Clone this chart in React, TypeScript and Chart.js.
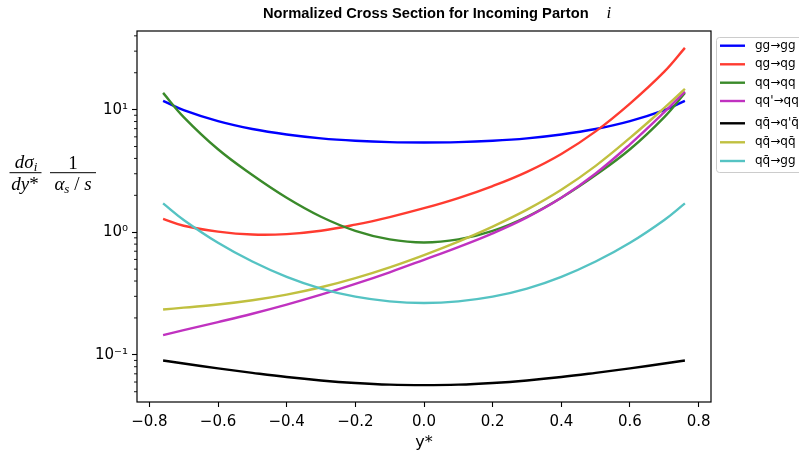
import React, { useEffect, useRef } from 'react';
import { Chart, registerables } from 'chart.js';

Chart.register(...registerables);

// ---- data ----
const Y_STAR = [-0.76, -0.7, -0.6, -0.5, -0.4, -0.3, -0.2, -0.1, 0, 0.1, 0.2, 0.3, 0.4, 0.5, 0.6, 0.7, 0.76];

const GG_GG = [11.8, 9.91, 8.06, 6.95, 6.27, 5.835, 5.575, 5.43, 5.39, 5.43, 5.575, 5.835, 6.27, 6.95, 8.06, 9.91, 11.8];
const QG_QG = [1.285, 1.13, 1.012, 0.958, 0.966, 1.028, 1.153, 1.33, 1.57, 1.9, 2.38, 3.11, 4.35, 6.65, 11.2, 20.4, 31.9];
const QQ_QQ = [13.7, 8.7, 4.75, 2.93, 1.912, 1.338, 1.027, 0.874, 0.825, 0.874, 1.027, 1.338, 1.912, 2.93, 4.75, 8.7, 13.7];
const QQP_QQP = [0.145, 0.159, 0.185, 0.2164, 0.2567, 0.3093, 0.3789, 0.4714, 0.596, 0.757, 0.98, 1.322, 1.911, 3.015, 5.214, 9.533, 14.04];
const QQB_QPQPB = [0.0899, 0.0849, 0.0776, 0.0713, 0.0659, 0.0618, 0.0589, 0.0571, 0.0566, 0.0571, 0.0589, 0.0618, 0.0659, 0.0713, 0.0776, 0.0849, 0.0899];
const QQB_QQB = [0.234, 0.2427, 0.2572, 0.2787, 0.3099, 0.3557, 0.4227, 0.5178, 0.652, 0.84, 1.112, 1.528, 2.22, 3.48, 5.88, 10.33, 14.76];
const QQB_GG = [1.72, 1.26, 0.821, 0.577, 0.4327, 0.3468, 0.298, 0.273, 0.265, 0.273, 0.298, 0.3468, 0.4327, 0.577, 0.821, 1.26, 1.72];

const SERIES = [GG_GG, QG_QG, QQ_QQ, QQP_QQP, QQB_QPQPB, QQB_QQB, QQB_GG];
const SERIES_LABELS = [
  'gg\u2192gg',
  'qg\u2192qg',
  'qq\u2192qq',
  "qq'\u2192qq'",
  "qq\u0304\u2192q'q\u0304'",
  'qq\u0304\u2192qq\u0304',
  'qq\u0304\u2192gg',
];
const SERIES_COLORS = ['#0000ff', '#ff3b30', '#3a8a2a', '#c032c0', '#000000', '#c0c040', '#55c3c3'];

const X_TICKS = [-0.8, -0.6, -0.4, -0.2, 0, 0.2, 0.4, 0.6, 0.8];
const X_TICK_LABELS = ['\u22120.8', '\u22120.6', '\u22120.4', '\u22120.2', '0.0', '0.2', '0.4', '0.6', '0.8'];
const Y_MAJOR = [0.1, 1, 10];
const Y_MAJOR_LABELS = ['10\u207b\u00b9', '10\u2070', '10\u00b9'];
const Y_MINOR = [0.05, 0.06, 0.07, 0.08, 0.09, 0.2, 0.3, 0.4, 0.5, 0.6, 0.7, 0.8, 0.9, 2, 3, 4, 5, 6, 7, 8, 9, 20, 30, 40];

const TITLE_TEXT = 'Normalized Cross Section for Incoming Parton';
const TITLE_MATH = 'i';
const X_TITLE = 'y*';

const X_MIN = -0.836;
const X_MAX = 0.836;
const Y_MIN = 0.04123;
const Y_MAX = 43.8;

const W = 799;
const H = 457;

const near = (a: number, b: number) => Math.abs(a - b) <= Math.abs(b) * 1e-6 + 1e-12;

type Run = { t: string; font: string; dy?: number };

function drawRuns(ctx: CanvasRenderingContext2D, runs: Run[], cx: number, baseline: number) {
  let total = 0;
  const widths = runs.map((r) => {
    ctx.font = r.font;
    const w = ctx.measureText(r.t).width;
    total += w;
    return w;
  });
  let x = cx - total / 2;
  ctx.textAlign = 'left';
  ctx.textBaseline = 'alphabetic';
  runs.forEach((r, i) => {
    ctx.font = r.font;
    ctx.fillText(r.t, x, baseline + (r.dy || 0));
    x += widths[i];
  });
}

const decorPlugin = {
  id: 'decor',
  afterDraw(chart: any) {
    const ctx: CanvasRenderingContext2D = chart.ctx;
    const { left, right, top, bottom } = chart.chartArea;
    const yScale = chart.scales.y;
    ctx.save();
    ctx.fillStyle = '#000';
    ctx.strokeStyle = '#000';

    // frame
    ctx.lineWidth = 1.2;
    ctx.strokeRect(left, top, right - left, bottom - top);

    // minor y ticks
    ctx.lineWidth = 0.9;
    Y_MINOR.forEach((v) => {
      const y = yScale.getPixelForValue(v);
      ctx.beginPath();
      ctx.moveTo(left - 3, y);
      ctx.lineTo(left, y);
      ctx.stroke();
    });

    // title
    const titleFont = 'bold 14.7px "Liberation Sans", Arial, sans-serif';
    const mathFont = 'italic 17px "Liberation Serif", "Times New Roman", serif';
    ctx.textBaseline = 'alphabetic';
    ctx.textAlign = 'left';
    ctx.font = titleFont;
    const w1 = ctx.measureText(TITLE_TEXT).width;
    const tx = 263;
    ctx.fillText(TITLE_TEXT, tx, 18);
    ctx.font = mathFont;
    ctx.fillText(TITLE_MATH, tx + w1 + 18, 18);

    // y label (math)
    const it = 'italic 19px "Liberation Serif", "Times New Roman", serif';
    const up = '19px "Liberation Serif", "Times New Roman", serif';
    const sub = 'italic 13px "Liberation Serif", "Times New Roman", serif';
    drawRuns(ctx, [{ t: 'd', font: it }, { t: '\u03c3', font: it }, { t: 'i', font: sub, dy: 3 }], 26, 168);
    drawRuns(ctx, [{ t: 'd', font: it }, { t: 'y', font: it }, { t: '*', font: up }], 25, 190);
    drawRuns(ctx, [{ t: '1', font: up }], 73, 169);
    drawRuns(ctx, [{ t: '\u03b1', font: it }, { t: 's', font: sub, dy: 3 }, { t: ' / ', font: up }, { t: 's', font: it }], 73, 190);
    ctx.lineWidth = 1;
    ctx.beginPath();
    ctx.moveTo(9.5, 172.7);
    ctx.lineTo(41.5, 172.7);
    ctx.moveTo(50, 172.7);
    ctx.lineTo(96, 172.7);
    ctx.stroke();

    // legend
    const lx = 716.5;
    const ly = 37.5;
    const lw = 120;
    const lh = 135;
    ctx.fillStyle = 'rgba(255,255,255,0.8)';
    ctx.strokeStyle = '#cccccc';
    ctx.lineWidth = 1;
    ctx.beginPath();
    (ctx as any).roundRect(lx, ly, lw, lh, 3);
    ctx.fill();
    ctx.stroke();
    const rows = [45.7, 64.3, 82.7, 101, 123.3, 142.3, 161];
    ctx.font = '12px "DejaVu Sans", sans-serif';
    ctx.textBaseline = 'middle';
    ctx.textAlign = 'left';
    SERIES_LABELS.forEach((lab, i) => {
      const y = rows[i];
      ctx.strokeStyle = SERIES_COLORS[i];
      ctx.lineWidth = 2.4;
      ctx.beginPath();
      ctx.moveTo(720, y);
      ctx.lineTo(745, y);
      ctx.stroke();
      ctx.fillStyle = '#000';
      ctx.fillText(lab, 755, y);
    });
    ctx.restore();
  },
};

export default function App() {
  const ref = useRef<HTMLCanvasElement | null>(null);
  useEffect(() => {
    if (!ref.current) return;
    const datasets = SERIES.map((vals, i) => ({
      label: SERIES_LABELS[i],
      data: Y_STAR.map((x, j) => ({ x, y: vals[j] })),
      borderColor: SERIES_COLORS[i],
      backgroundColor: SERIES_COLORS[i],
      borderWidth: 2.4,
      pointRadius: 0,
      fill: false,
      tension: 0.4,
      order: SERIES.length - 1 - i,
    }));
    const chart = new Chart(ref.current, {
      type: 'line',
      data: { datasets },
      options: {
        responsive: false,
        animation: false,
        layout: { padding: { top: 31, right: 88, left: 0, bottom: 0 } },
        plugins: {
          legend: { display: false },
          title: { display: false },
          tooltip: { enabled: false },
        },
        scales: {
          x: {
            type: 'linear',
            min: X_MIN,
            max: X_MAX,
            afterBuildTicks: (s: any) => {
              s.ticks = X_TICKS.map((v) => ({ value: v }));
            },
            afterFit: (s: any) => {
              s.height = 55;
            },
            ticks: {
              autoSkip: false,
              maxRotation: 0,
              padding: 6,
              color: '#000',
              font: { family: '"DejaVu Sans", sans-serif', size: 15 },
              callback: (v: any) => {
                const i = X_TICKS.findIndex((t) => Math.abs(t - v) < 1e-9);
                return i >= 0 ? X_TICK_LABELS[i] : '';
              },
            },
            grid: { display: true, drawOnChartArea: false, drawTicks: true, tickLength: 5, tickColor: '#000', tickWidth: 1.1 },
            border: { display: false },
            title: {
              display: true,
              text: X_TITLE,
              color: '#000',
              font: { family: '"DejaVu Sans", sans-serif', size: 16 },
              padding: { top: 0, bottom: 5 },
            },
          },
          y: {
            type: 'logarithmic',
            min: Y_MIN,
            max: Y_MAX,
            afterBuildTicks: (s: any) => {
              const vals = [...Y_MINOR, ...Y_MAJOR].sort((a, b) => a - b);
              s.ticks = vals.map((v) => ({ value: v }));
            },
            afterFit: (s: any) => {
              s.width = 137;
            },
            ticks: {
              autoSkip: false,
              padding: 4,
              color: '#000',
              font: { family: '"DejaVu Sans", sans-serif', size: 15 },
              callback: (v: any) => {
                const i = Y_MAJOR.findIndex((t) => near(Number(v), t));
                return i >= 0 ? Y_MAJOR_LABELS[i] : '';
              },
            },
            grid: {
              display: true,
              drawOnChartArea: false,
              drawTicks: true,
              tickLength: 5,
              tickWidth: 1.1,
              tickColor: (c: any) => (Y_MAJOR.some((t) => near(c.tick.value, t)) ? '#000' : 'rgba(0,0,0,0)'),
            },
            border: { display: false },
          },
        },
      },
      plugins: [decorPlugin],
    });
    return () => chart.destroy();
  }, []);
  return (
    <div style={{ position: 'fixed', left: 0, top: 0, width: W, height: H, background: '#fff' }}>
      <canvas ref={ref} width={W} height={H} style={{ display: 'block', width: W, height: H }} />
    </div>
  );
}
